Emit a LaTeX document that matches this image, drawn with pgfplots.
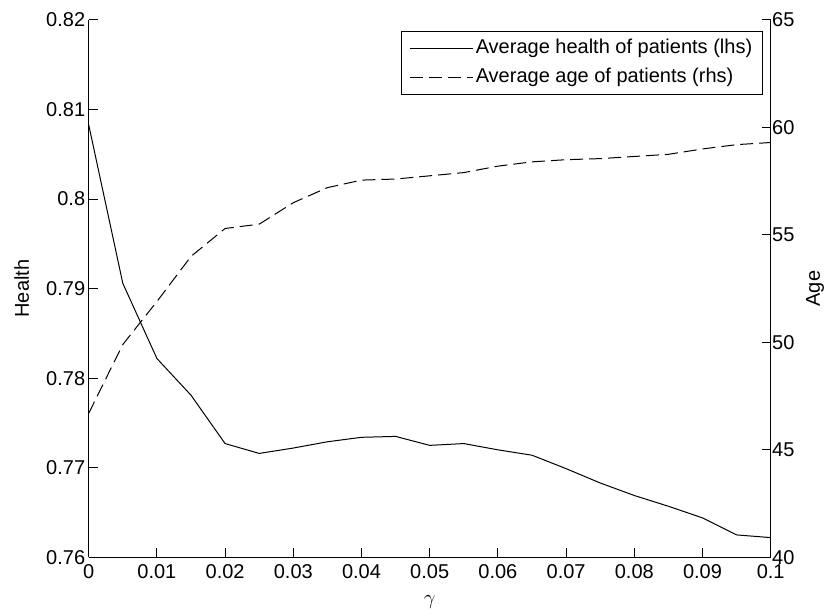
\documentclass[border=0pt]{standalone}
\usepackage{fontspec}
\setmainfont{Liberation Sans}
\usepackage{pgfplots}
\pgfplotsset{compat=1.18}
\begin{document}
\begin{tikzpicture}
\path[use as bounding box] (-88.7pt,-57.7pt) rectangle (737.3pt,557.3pt);
\pgfplotsset{
  common/.style={
    width=682pt, height=537.3pt, scale only axis,
    xmin=0, xmax=0.1,
    tick align=inside, major tick length=9pt,
    every tick/.style={black, line width=1pt},
    axis line style={black, line width=1pt},
    /pgf/number format/assume math mode=true,
    ticklabel style={font=\fontsize{20}{24}\selectfont},
    scaled ticks=false,
  }
}
\begin{axis}[common,
  axis x line*=bottom, axis y line*=left,
  ymin=0.76, ymax=0.82,
  xtick={0,0.01,0.02,0.03,0.04,0.05,0.06,0.07,0.08,0.09,0.1},
  ytick={0.76,0.77,0.78,0.79,0.8,0.81,0.82},
  xticklabel style={/pgf/number format/fixed, /pgf/number format/precision=2, yshift=-4pt},
  yticklabel style={/pgf/number format/fixed, /pgf/number format/precision=2},
  xlabel={$\gamma$}, ylabel={Health},
  every axis x label/.style={at={(axis description cs:0.5,-0.0826)}, anchor=center, font=\fontsize{20}{24}\selectfont},
  every axis y label/.style={at={(axis description cs:-0.0982,0.5)}, rotate=90, anchor=center, font=\fontsize{20}{24}\selectfont},
]
\addplot[black, line width=1pt] coordinates {
(0,0.8083) (0.005,0.7906) (0.01,0.7822) (0.015,0.7781) (0.02,0.7727)
(0.025,0.7716) (0.03,0.7722) (0.035,0.7729) (0.04,0.7734) (0.045,0.7735)
(0.05,0.7725) (0.055,0.7727) (0.06,0.7720) (0.065,0.7714) (0.07,0.7699)
(0.075,0.7683) (0.08,0.7669) (0.085,0.7657) (0.09,0.7644) (0.095,0.7625)
(0.1,0.7622)};
\end{axis}
\begin{axis}[common,
  axis x line=none, axis y line*=right,
  ymin=40, ymax=65,
  ytick={40,45,50,55,60,65},
  yticklabel style={xshift=-2pt},
  ylabel={Age},
  every axis y label/.style={at={(axis description cs:1.065,0.5)}, rotate=90, anchor=center, font=\fontsize{20}{24}\selectfont},
  legend style={at={(axis description cs:0.9883,0.9795)}, anchor=north east,
    draw=black, line width=1pt, font=\fontsize{20}{24}\selectfont,
    inner xsep=8pt, inner ysep=3pt, row sep=0pt,
    nodes={text height=14pt, text depth=4.5pt, inner ysep=5pt, inner xsep=2pt}},
  legend cell align=left,
  legend image code/.code={\draw[#1] (0pt,0pt) -- (63pt,0pt);},
]
\addlegendimage{black, line width=1pt, solid}
\addlegendentry{Average health of patients (lhs)}
\addplot[black, line width=1pt, dash pattern=on 13pt off 6pt] coordinates {
(0,46.7) (0.005,49.9) (0.01,51.9) (0.015,54.0) (0.02,55.3)
(0.025,55.5) (0.03,56.5) (0.035,57.2) (0.04,57.55) (0.045,57.6)
(0.05,57.75) (0.055,57.9) (0.06,58.2) (0.065,58.4) (0.07,58.5)
(0.075,58.55) (0.08,58.65) (0.085,58.75) (0.09,59.0) (0.095,59.2)
(0.1,59.3)};
\addlegendentry{Average age of patients (rhs)}
\end{axis}
\end{tikzpicture}
\end{document}
